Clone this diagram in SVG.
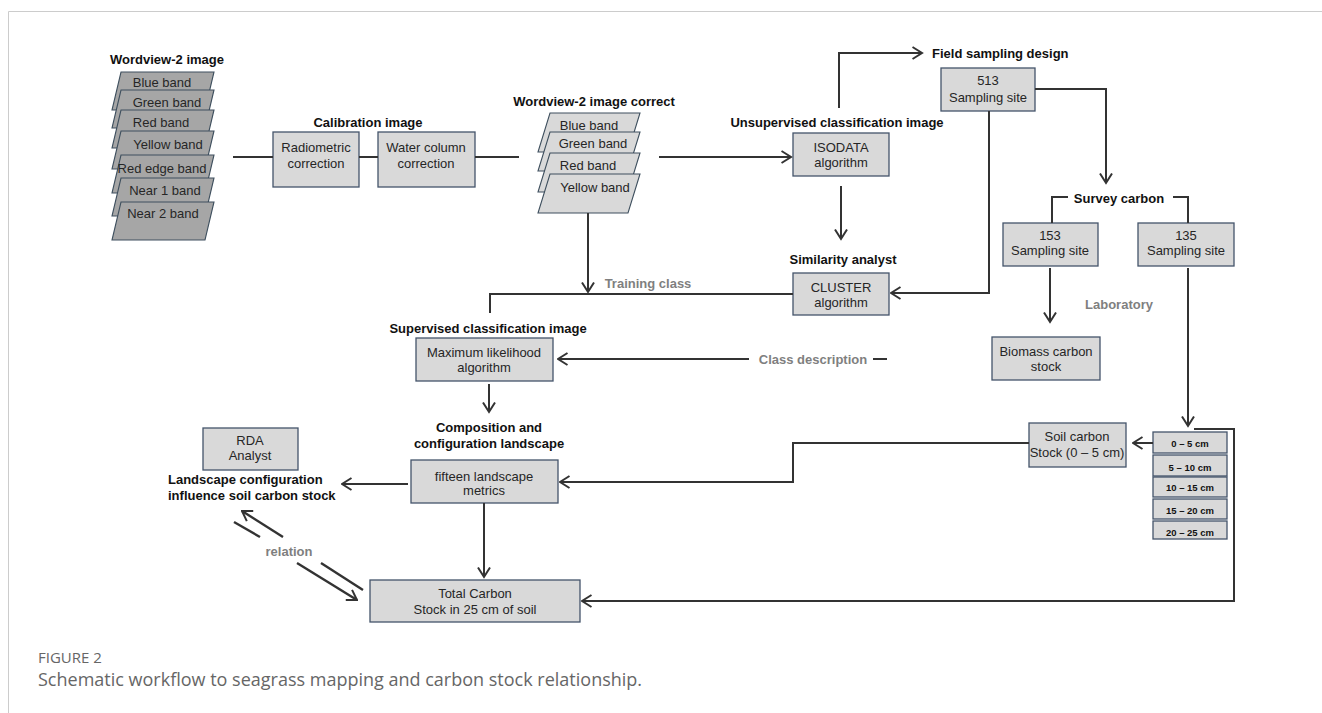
<svg xmlns="http://www.w3.org/2000/svg" width="1322" height="713" viewBox="0 0 1322 713">
<style>
.box{fill:#d9d9d9;stroke:#44546a;stroke-width:1.3}
.dk{fill:#a6a6a6;stroke:#3e4f5e;stroke-width:1.1}
.lt{fill:#d9d9d9;stroke:#3e4f5e;stroke-width:1.1}
text{font-family:"Liberation Sans",Arial,sans-serif;font-size:13px;fill:#262626;text-anchor:middle;dominant-baseline:central}
.h{font-weight:bold;fill:#111}
.g{font-weight:bold;fill:#7f7f7f}
.d{font-weight:bold;font-size:9.5px;fill:#111}
.ln{stroke:#333;stroke-width:2;fill:none}
.cap{font-family:"Open Sans","Liberation Sans",sans-serif;fill:#666;text-anchor:start}
</style>
<defs>
<marker id="arr" viewBox="0 0 12 14" refX="10.5" refY="7" markerWidth="12" markerHeight="14" markerUnits="userSpaceOnUse" orient="auto">
<path d="M1,1 L10.5,7 L1,13" fill="none" stroke="#333" stroke-width="2"/>
</marker>
</defs>
<path d="M8.5,713 V11.5 H1322" fill="none" stroke="#cccccc" stroke-width="1"/>

<g id="wv2">
<text class="h" x="167" y="59">Wordview-2 image</text>
<polygon class="dk" points="121,72 214,72 205,110 112,110"/><text x="162" y="82">Blue band</text>
<polygon class="dk" points="121,90 214,90 205,128 112,128"/><text x="167" y="102">Green band</text>
<polygon class="dk" points="121,110 214,110 205,148 112,148"/><text x="161" y="122">Red band</text>
<polygon class="dk" points="121,131 214,131 205,169 112,169"/><text x="168" y="144">Yellow band</text>
<polygon class="dk" points="121,155 214,155 205,193 112,193"/><text x="162" y="168">Red edge band</text>
<polygon class="dk" points="121,178 214,178 205,216 112,216"/><text x="165" y="190">Near 1 band</text>
<polygon class="dk" points="121,202 214,202 205,240 112,240"/><text x="163" y="213">Near 2 band</text>
</g>

<g id="calib">
<text class="h" x="368" y="122">Calibration image</text>
<rect class="box" x="273" y="132" width="86" height="55"/>
<text x="316" y="147">Radiometric</text><text x="316" y="163">correction</text>
<rect class="box" x="378" y="132" width="97" height="55"/>
<text x="426" y="147">Water column</text><text x="426" y="163">correction</text>
</g>

<g id="wv2c">
<text class="h" x="594" y="101">Wordview-2 image correct</text>
<polygon class="lt" points="550,113 640,113 628,152 538,152"/><text x="589" y="125">Blue band</text>
<polygon class="lt" points="550,132 640,132 628,171 538,171"/><text x="593" y="143">Green band</text>
<polygon class="lt" points="550,153 640,153 628,192 538,192"/><text x="588" y="165">Red band</text>
<polygon class="lt" points="550,174 640,174 628,213 538,213"/><text x="595" y="187">Yellow band</text>
</g>

<g id="unsup">
<text class="h" x="837" y="122">Unsupervised classification image</text>
<rect class="box" x="793" y="133" width="96" height="43"/>
<text x="841" y="147">ISODATA</text><text x="841" y="162">algorithm</text>
</g>

<g id="field">
<text class="h" x="932" y="53" style="text-anchor:start">Field sampling design</text>
<rect class="box" x="941" y="68" width="94" height="43"/>
<text x="988" y="80">513</text><text x="988" y="97">Sampling site</text>
</g>

<g id="similarity">
<text class="h" x="843" y="259">Similarity analyst</text>
<rect class="box" x="793" y="273" width="96" height="42"/>
<text x="841" y="287">CLUSTER</text><text x="841" y="302">algorithm</text>
</g>

<g id="survey">
<text class="h" x="1119" y="198">Survey carbon</text>
</g>

<g id="s153">
<rect class="box" x="1003" y="223" width="95" height="43"/>
<text x="1050" y="235">153</text><text x="1050" y="250">Sampling site</text>
</g>

<g id="s135">
<rect class="box" x="1138" y="223" width="96" height="43"/>
<text x="1186" y="235">135</text><text x="1186" y="250">Sampling site</text>
</g>

<g id="biomass">
<rect class="box" x="992" y="337" width="108" height="43"/>
<text x="1046" y="351">Biomass carbon</text><text x="1046" y="366">stock</text>
</g>

<g id="supervised">
<text class="h" x="488" y="328">Supervised classification image</text>
<rect class="box" x="416" y="338" width="137" height="43"/>
<text x="484" y="352">Maximum likelihood</text><text x="484" y="367">algorithm</text>
</g>

<g id="composition">
<text class="h" x="489" y="427">Composition and</text>
<text class="h" x="489" y="443">configuration landscape</text>
<rect class="box" x="411" y="460" width="147" height="43"/>
<text x="484" y="476">fifteen landscape</text><text x="484" y="490">metrics</text>
</g>

<g id="rda">
<rect class="box" x="203" y="428" width="95" height="42"/>
<text x="250" y="440">RDA</text><text x="250" y="455">Analyst</text>
<text class="h" x="168" y="479" style="text-anchor:start">Landscape configuration</text>
<text class="h" x="168" y="495" style="text-anchor:start">influence soil carbon stock</text>
</g>

<g id="soil">
<rect class="box" x="1029" y="423" width="97" height="44"/>
<text x="1077" y="436">Soil carbon</text><text x="1077" y="452">Stock (0 – 5 cm)</text>
</g>

<g id="depths">
<rect class="box" x="1153" y="432" width="74" height="21"/><text class="d" x="1190" y="443">0 – 5 cm</text>
<rect class="box" x="1153" y="455" width="74" height="21"/><text class="d" x="1190" y="467">5 – 10 cm</text>
<rect class="box" x="1153" y="477" width="74" height="20"/><text class="d" x="1190" y="487">10 – 15 cm</text>
<rect class="box" x="1153" y="499" width="74" height="20"/><text class="d" x="1190" y="510">15 – 20 cm</text>
<rect class="box" x="1153" y="521" width="74" height="18"/><text class="d" x="1190" y="532">20 – 25 cm</text>
</g>

<g id="total">
<rect class="box" x="370" y="580" width="210" height="42"/>
<text x="475" y="593">Total Carbon</text><text x="475" y="609">Stock in 25 cm of soil</text>
</g>

<g id="connectors">
<path class="ln" d="M233,157 H273"/>
<path class="ln" d="M359,157 H378"/>
<path class="ln" d="M475,157 H519"/>
<path class="ln" d="M659,157 H791" marker-end="url(#arr)"/>
<path class="ln" d="M588,213 V292" marker-end="url(#arr)"/>
<path class="ln" d="M793,294 H490 V313"/>
<path class="ln" d="M841,186 V239" marker-end="url(#arr)"/>
<path class="ln" d="M839,108 V53 H922" marker-end="url(#arr)"/>
<path class="ln" d="M989,111 V293 H891" marker-end="url(#arr)"/>
<path class="ln" d="M1035,89 H1106 V183" marker-end="url(#arr)"/>
<path class="ln" d="M1052,223 V197 H1068"/>
<path class="ln" d="M1173,197 H1188 V223"/>
<path class="ln" d="M1050,268 V322" marker-end="url(#arr)"/>
<path class="ln" d="M1188,268 V426" marker-end="url(#arr)"/>
<path class="ln" d="M1153,443 H1133" marker-end="url(#arr)"/>
<path class="ln" d="M1194,429 H1234 V601 H582" marker-end="url(#arr)"/>
<path class="ln" d="M1029,443 H793 V482 H560" marker-end="url(#arr)"/>
<path class="ln" d="M749,359 H558" marker-end="url(#arr)"/>
<path class="ln" d="M873,359 H887"/>
<path class="ln" d="M489,384 V412" marker-end="url(#arr)"/>
<path class="ln" d="M408,484 H342" marker-end="url(#arr)"/>
<path class="ln" d="M484,503 V577" marker-end="url(#arr)"/>
<path class="ln" d="M283,537 L242,511" marker-end="url(#arr)" style="stroke-width:2.4"/>
<path class="ln" d="M363,590 L321,563" style="stroke-width:2.4"/>
<path class="ln" d="M234,522 L260,537" style="stroke-width:2.4"/>
<path class="ln" d="M297,563 L357,600" marker-end="url(#arr)" style="stroke-width:2.4"/>
<text class="g" x="648" y="283">Training class</text>
<text class="g" x="813" y="359">Class description</text>
<text class="g" x="1119" y="304">Laboratory</text>
<text class="g" x="289" y="551">relation</text>
</g>

<text class="cap" x="38" y="657" style="font-size:15px">FIGURE 2</text>
<text class="cap" x="38" y="679" style="font-size:18px">Schematic workflow to seagrass mapping and carbon stock relationship.</text>
</svg>
